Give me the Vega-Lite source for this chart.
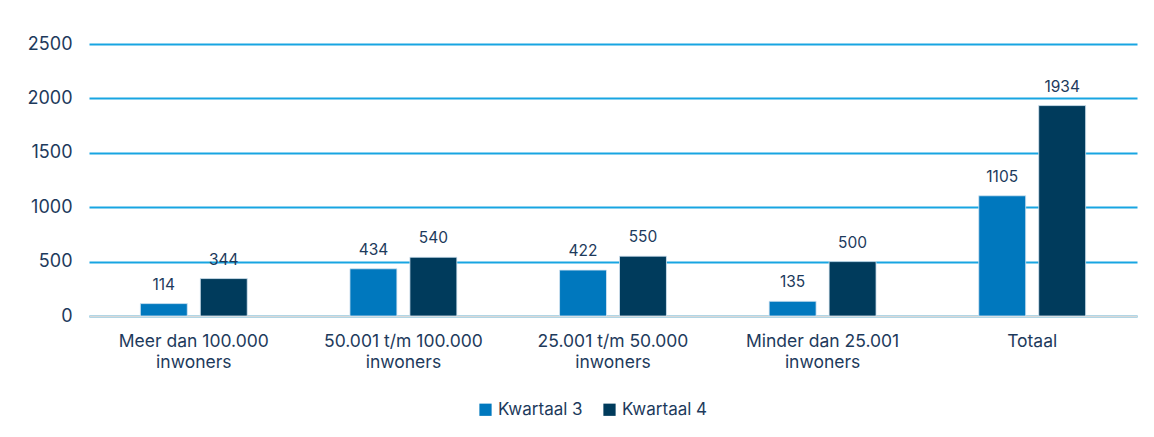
{
  "$schema": "https://vega.github.io/schema/vega-lite/v6.json",
  "width": 1048,
  "height": 272,
  "autosize": {"type": "none"},
  "padding": {"left": 89, "top": 44, "right": 17, "bottom": 121},
  "background": "white",
  "config": {
    "view": {"stroke": null},
    "font": "Inter",
    "text": {"font": "Inter"}
  },
  "data": {
    "values": [
      {"cat": "Meer dan 100.000 inwoners", "kw": "Kwartaal 3", "v": 114},
      {"cat": "Meer dan 100.000 inwoners", "kw": "Kwartaal 4", "v": 344},
      {"cat": "50.001 t/m 100.000 inwoners", "kw": "Kwartaal 3", "v": 434},
      {"cat": "50.001 t/m 100.000 inwoners", "kw": "Kwartaal 4", "v": 540},
      {"cat": "25.001 t/m 50.000 inwoners", "kw": "Kwartaal 3", "v": 422},
      {"cat": "25.001 t/m 50.000 inwoners", "kw": "Kwartaal 4", "v": 550},
      {"cat": "Minder dan 25.001 inwoners", "kw": "Kwartaal 3", "v": 135},
      {"cat": "Minder dan 25.001 inwoners", "kw": "Kwartaal 4", "v": 500},
      {"cat": "Totaal", "kw": "Kwartaal 3", "v": 1105},
      {"cat": "Totaal", "kw": "Kwartaal 4", "v": 1934}
    ]
  },
  "encoding": {
    "x": {
      "field": "cat",
      "type": "nominal",
      "sort": null,
      "scale": {"paddingInner": 0.49, "paddingOuter": 0.245},
      "axis": {
        "title": null,
        "labelAngle": 0,
        "labelExpr": "datum.label == 'Totaal' ? 'Totaal' : [slice(datum.label, 0, lastindexof(datum.label, ' ')), 'inwoners']",
        "labelFont": "Inter",
        "labelFontSize": 17.5,
        "labelColor": "#1d3a5c",
        "labelLineHeight": 21,
        "labelPadding": 16,
        "ticks": false,
        "domainColor": "#d9d9d9",
        "domainWidth": 2,
        "grid": false
      }
    },
    "xOffset": {
      "field": "kw",
      "type": "nominal",
      "scale": {"paddingInner": 0.217, "paddingOuter": 0}
    },
    "y": {
      "field": "v",
      "type": "quantitative",
      "scale": {"domain": [0, 2500], "nice": false},
      "axis": {
        "title": null,
        "values": [0, 500, 1000, 1500, 2000, 2500],
        "format": "d",
        "labelFont": "Inter",
        "labelFontSize": 18,
        "labelColor": "#1d3a5c",
        "labelPadding": 17,
        "ticks": false,
        "domain": false,
        "gridColor": "#18a5e2",
        "gridWidth": 1.8
      }
    }
  },
  "layer": [
    {
      "mark": {"type": "bar", "stroke": "#d6e6f2", "strokeWidth": 0.8},
      "encoding": {
        "color": {
          "field": "kw",
          "type": "nominal",
          "scale": {"domain": ["Kwartaal 3", "Kwartaal 4"], "range": ["#0078be", "#003b5c"]},
          "legend": {
            "title": null,
            "orient": "none",
            "legendX": 388,
            "legendY": 357,
            "direction": "horizontal",
            "symbolType": "square",
            "symbolSize": 150,
            "symbolStrokeWidth": 0,
            "labelFont": "Inter",
            "labelFontSize": 17,
            "labelColor": "#1d3a5c",
            "labelOffset": 4,
            "columnPadding": 18
          }
        }
      }
    },
    {
      "mark": {"type": "text", "baseline": "bottom", "dy": -11, "fontSize": 15.5, "font": "Inter", "color": "#1d3a5c"},
      "encoding": {
        "text": {"field": "v", "type": "quantitative", "format": "d"}
      }
    }
  ]
}
